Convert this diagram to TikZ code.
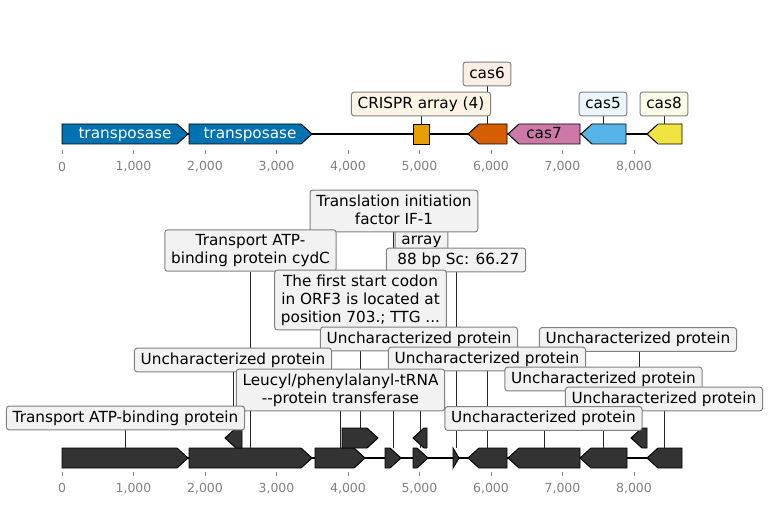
\documentclass[tikz,border=0pt]{standalone}
\usepackage{fontspec}
\setmainfont{DejaVu Sans}
\usetikzlibrary{calc}
\pgfdeclarelayer{back}
\pgfsetlayers{back,main}

\definecolor{tnpblue}{HTML}{0072B2}
\definecolor{arrorange}{HTML}{E69F00}
\definecolor{casverm}{HTML}{D55E00}
\definecolor{caspink}{HTML}{CC79A7}
\definecolor{cassky}{HTML}{56B4E9}
\definecolor{casyell}{HTML}{F0E442}
\definecolor{orfdark}{HTML}{333333}
\definecolor{lblgray}{HTML}{F2F2F2}
\definecolor{axgray}{HTML}{808080}

\newcommand\lblstrut{\rule{0pt}{8.4pt}}
\newcommand\lbldstrut{\rule[-2.4pt]{0pt}{2.4pt}}

% gene arrows: [style]{name}{start}{end}{row}
\newcommand\fwdgene[5][]{%
  \pgfmathsetmacro\headx{max(#3,#4-11)}
  \draw[gene,#1] (#3,#5-10) -- (\headx,#5-10) -- (#4,#5) -- (\headx,#5+10) -- (#3,#5+10) -- cycle;
  \coordinate (#2) at ({(#3+#4)/2},#5-10);}
\newcommand\bwdgene[5][]{%
  \pgfmathsetmacro\headx{min(#3+11,#4)}
  \draw[gene,#1] (#3,#5) -- (\headx,#5-10) -- (#4,#5-10) -- (#4,#5+10) -- (\headx,#5+10) -- cycle;
  \coordinate (#2) at ({(#3+#4)/2},#5-10);}

\begin{document}
\begin{tikzpicture}[x=0.72pt,y=-0.72pt,
  font=\fontsize{11}{13}\selectfont,
  gene/.style={draw=black,line width=0.7pt,fill=orfdark},
  genetxt/.style={inner sep=0pt,execute at begin node=\lblstrut,execute at end node=\lbldstrut},
  lbl/.style={draw=axgray,fill=#1,rounded corners=2pt,line width=0.7pt,
    inner xsep=4.5pt,inner ysep=3.2pt,align=center,
    execute at begin node=\lblstrut,execute at end node=\lbldstrut},
  lbl/.default=lblgray,
  stem/.style={draw=black!85,line width=0.55pt},
  axtick/.style={draw=axgray,line width=0.6pt},
  axnum/.style={text=axgray,font=\fontsize{9}{10}\selectfont,inner sep=0pt}]
\useasboundingbox (0,0) rectangle (769,505);

% backbones
\coordinate (topL) at (62,134);
\coordinate (topR) at (682,134);
\coordinate (botL) at (62,458);
\coordinate (botR) at (682,458);
\begin{pgfonlayer}{back}
\draw[line width=1.4pt] (topL) -- (topR);
\draw[line width=1.4pt] (botL) -- (botR);
\end{pgfonlayer}

% top track
\fwdgene[fill=tnpblue]{tnp1}{62}{188}{134}
\fwdgene[fill=tnpblue]{tnp2}{189}{312}{134}
\draw[gene,fill=arrorange] (413,124) rectangle (429,144);
\coordinate (crispr) at (421,124);
\bwdgene[fill=casverm]{cas6}{468}{507}{134}
\bwdgene[fill=caspink]{cas7}{508}{580}{134}
\bwdgene[fill=cassky]{cas5}{581}{626}{134}
\bwdgene[fill=casyell]{cas8}{647}{682}{134}
\node[genetxt,white] (tnp1txt) at (125,134) {transposase};
\node[genetxt,white] (tnp2txt) at (250,134) {transposase};
\node[genetxt] (cas7txt) at (544,134) {cas7};

\node[lbl=arrorange!10] (crisprlbl) at (421,104) {CRISPR array (4)};
\node[lbl=casverm!10] (cas6lbl) at (487,74) {cas6};
\node[lbl=cassky!12] (cas5lbl) at (603,104) {cas5};
\node[lbl=casyell!12] (cas8lbl) at (664,104) {cas8};

% bottom track
\fwdgene{tap}{62}{188}{458}
\fwdgene{cydC}{189}{312}{458}
\fwdgene{aat}{315}{365}{458}
\fwdgene{infA}{385}{401}{458}
\fwdgene{arr}{413}{428}{458}
\fwdgene{rpt}{453}{459}{458}
\bwdgene{hypA}{468}{507}{458}
\bwdgene{hypB}{508}{580}{458}
\bwdgene{hypC}{580}{627}{458}
\bwdgene{hypD}{647}{682}{458}
\bwdgene{upA}{225}{242}{438}
\fwdgene{upB}{342}{378}{438}
\bwdgene{upC}{413}{427}{438}
\bwdgene{upD}{631}{647}{438}

\node[lbl] (arrlbl) at (421.5,240) {array};
\node[lbl] (infAlbl) at (394,211) {Translation initiation\\factor IF-1};
\node[lbl] (rptlbl) at (456,260) {\ 88 bp Sc: 66.27};
\node[lbl] (cydClbl) at (250.5,250.5) {Transport ATP-\\binding protein cydC};
\node[lbl] (upBlbl) at (360.5,300) {The first start codon\\in ORF3 is located at\\position 703.; TTG ...};
\node[lbl] (upClbl) at (419,339) {Uncharacterized protein};
\node[lbl] (upDlbl) at (638,339.5) {Uncharacterized protein};
\node[lbl] (hypAlbl) at (487,359) {Uncharacterized protein};
\node[lbl] (upAlbl) at (233,360) {Uncharacterized protein};
\node[lbl] (hypClbl) at (603.5,379) {Uncharacterized protein};
\node[lbl] (aatlbl) at (340.5,390) {Leucyl/phenylalanyl-tRNA\\-\kern0pt-protein transferase};
\node[lbl] (hypDlbl) at (664,399) {Uncharacterized protein};
\node[lbl] (taplbl) at (125.5,418) {Transport ATP-binding protein};
\node[lbl] (hypBlbl) at (543.5,418.5) {Uncharacterized protein};

% stems from genes to labels
\begin{pgfonlayer}{back}
\foreach \g in {crispr,cas6,cas5,cas8,tap,cydC,aat,infA,arr,rpt,hypA,hypB,hypC,hypD,upA,upB,upC,upD}
  \draw[stem] (\g) -- (\g |- \g lbl.south);
\end{pgfonlayer}

% axes
\foreach \k in {0,...,8}{
  \draw[axtick] ({62+71.5*\k},150) -- ({62+71.5*\k},154);
  \node[axnum] (topnum\k) at ({62+71.5*\k},166.5) {\ifnum\k=0 0\else\k,000\fi};
  \draw[axtick] ({62+71.5*\k},472) -- ({62+71.5*\k},476);
  \node[axnum] (botnum\k) at ({62+71.5*\k},488.3) {\ifnum\k=0 0\else\k,000\fi};
}
\end{tikzpicture}
\end{document}
